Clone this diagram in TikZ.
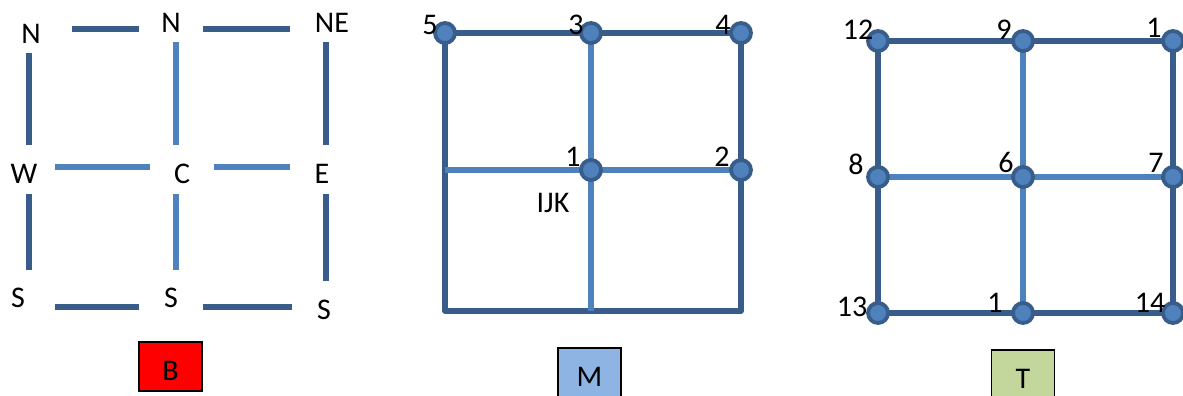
\documentclass[tikz,border=0pt]{standalone}
\usepackage{fontspec}
\setmainfont{Carlito}
\usepackage{xcolor}
\usepackage{tikz}
\usetikzlibrary{backgrounds}

\definecolor{griddark}{HTML}{385D8A}
\definecolor{gridlight}{HTML}{4F81BD}
\definecolor{boxred}{HTML}{FF0000}
\definecolor{boxblue}{HTML}{8EB4E3}
\definecolor{boxgreen}{HTML}{C3D69B}

\begin{document}
\begin{tikzpicture}[
    x=0.5pt, y=-0.5pt,
    lbl/.style={inner sep=0pt, font=\fontsize{15}{17}\selectfont},
    darkline/.style={draw=griddark, line width=2.6pt},
    lightline/.style={draw=gridlight, line width=2.6pt},
    gridpt/.style={circle, fill=gridlight, draw=griddark, line width=1.9pt, minimum size=10pt, inner sep=0pt},
    tagbox/.style={rectangle, draw=black, line width=0.6pt, minimum width=31.5pt, minimum height=24.5pt, inner sep=0pt, text height=14pt, text depth=0pt, font=\fontsize{15}{17}\selectfont}
]
    \useasboundingbox (0,0) rectangle (1183,396);

    % panel B
    \coordinate (b11) at (29,29);  \coordinate (b12) at (176,29);  \coordinate (b13) at (326,29);
    \coordinate (b21) at (29,167); \coordinate (b22) at (176,167); \coordinate (b23) at (326,167);
    \coordinate (b31) at (29,307); \coordinate (b32) at (176,307); \coordinate (b33) at (326,307);

    \draw[darkline, shorten <=21.5pt, shorten >=18.5pt] (b11) -- (b12);
    \draw[darkline, shorten <=13.5pt, shorten >=18pt] (b12) -- (b13);
    \draw[lightline, shorten <=13pt, shorten >=13pt] (b21) -- (b22);
    \draw[lightline, shorten <=19pt, shorten >=18pt] (b22) -- (b23);
    \draw[darkline, shorten <=13pt, shorten >=18.5pt] (b31) -- (b32);
    \draw[darkline, shorten <=13.5pt, shorten >=17pt] (b32) -- (b33);
    \draw[darkline, shorten <=12pt, shorten >=11pt] (b11) -- (b21);
    \draw[darkline, shorten <=13.5pt, shorten >=18.5pt] (b21) -- (b31);
    \draw[lightline, shorten <=6.5pt, shorten >=11pt] (b12) -- (b22);
    \draw[lightline, shorten <=13.5pt, shorten >=18.5pt] (b22) -- (b32);
    \draw[darkline, shorten <=6.5pt, shorten >=11pt] (b13) -- (b23);
    \draw[darkline, shorten <=13.5pt, shorten >=13pt] (b23) -- (b33);

    \node[lbl] (bnw) at (31,34) {N};
    \node[lbl] (bn) at (171,23) {N};
    \node[lbl] (bne) at (332,23) {NE};
    \node[lbl] (bw) at (24,174) {W};
    \node[lbl] (bc) at (182,174) {C};
    \node[lbl] (be) at (322,174) {E};
    \node[lbl] (bsw) at (18,298) {S};
    \node[lbl] (bs) at (171,298) {S};
    \node[lbl] (bse) at (324,310) {S};
    \node[tagbox, fill=boxred] (tagb) at (170.5,366.5) {B};

    % panel M
    \node[gridpt] (m5) at (445,33) {};
    \node[gridpt] (m3) at (591,33) {};
    \node[gridpt] (m4) at (741,33) {};
    \node[gridpt] (m1) at (591,170) {};
    \node[gridpt] (m2) at (741,170) {};
    \coordinate (mml) at (445,170);
    \coordinate (mbl) at (445,311);
    \coordinate (mbm) at (591,311);
    \coordinate (mbr) at (741,311);
    \begin{scope}[on background layer]
        \draw[darkline, line join=round] (m5.center) -- (m4.center) -- (mbr) -- (mbl) -- cycle;
        \draw[lightline] (m3.center) -- (mbm);
        \draw[lightline] (mml) -- (m2.center);
    \end{scope}

    \node[lbl] (lm5) at (430,25) {5};
    \node[lbl] (lm3) at (576,25) {3};
    \node[lbl] (lm4) at (723,25) {4};
    \node[lbl] (lm1) at (573,157) {1};
    \node[lbl] (lm2) at (722,157) {2};
    \node[lbl] (lijk) at (553,203) {IJK};
    \node[tagbox, fill=boxblue] (tagm) at (589.5,372.5) {M};

    % panel T
    \node[gridpt] (t12) at (878,41) {};
    \node[gridpt] (t9) at (1023,41) {};
    \node[gridpt] (t1a) at (1173,41) {};
    \node[gridpt] (t8) at (878,177) {};
    \node[gridpt] (t6) at (1023,177) {};
    \node[gridpt] (t7) at (1173,177) {};
    \node[gridpt] (t13) at (878,313) {};
    \node[gridpt] (t1b) at (1023,313) {};
    \node[gridpt] (t14) at (1173,313) {};
    \begin{scope}[on background layer]
        \draw[darkline, line join=round] (t12.center) -- (t1a.center) -- (t14.center) -- (t13.center) -- cycle;
        \draw[lightline] (t9.center) -- (t1b.center);
        \draw[lightline] (t8.center) -- (t7.center);
    \end{scope}

    \node[lbl] (lt12) at (858,30) {12};
    \node[lbl] (lt9) at (1004,30) {9};
    \node[lbl] (lt1a) at (1154,28) {1};
    \node[lbl] (lt8) at (856,164) {8};
    \node[lbl] (lt6) at (1006,162) {6};
    \node[lbl] (lt7) at (1156,163) {7};
    \node[lbl] (lt13) at (852,307) {13};
    \node[lbl] (lt1b) at (995,303) {1};
    \node[lbl] (lt14) at (1150,303) {14};
    \node[tagbox, fill=boxgreen] (tagt) at (1023,374.5) {T};
\end{tikzpicture}
\end{document}
